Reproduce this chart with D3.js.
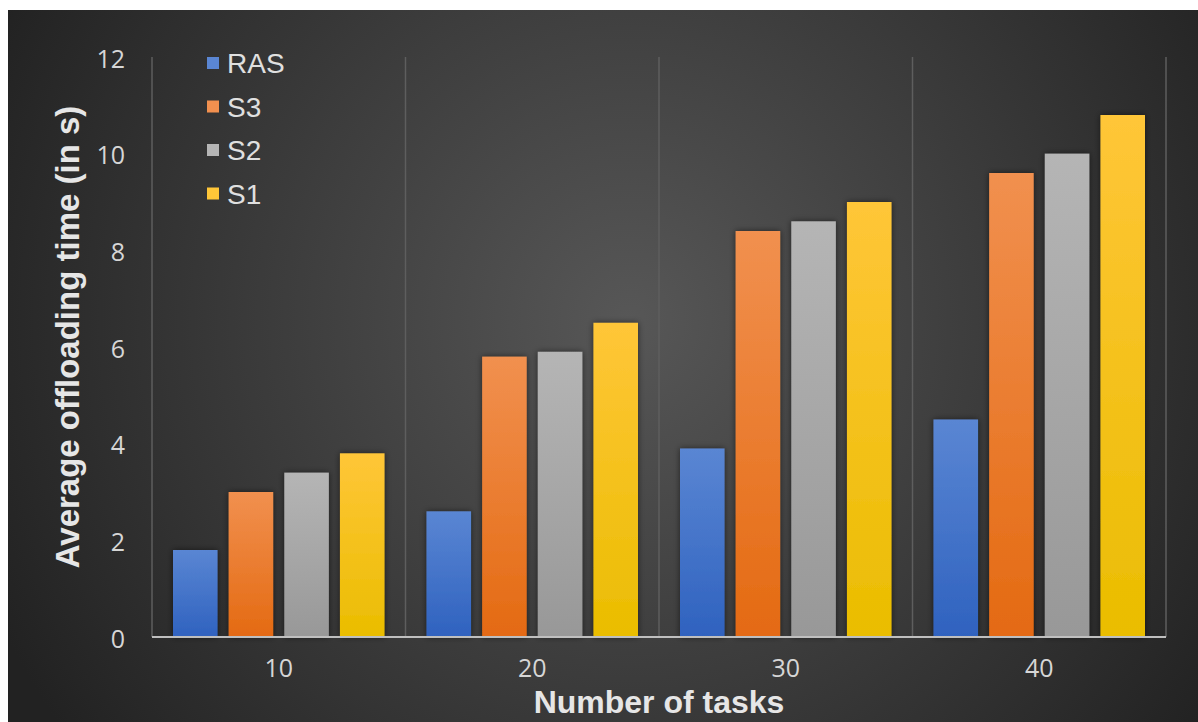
<!DOCTYPE html>
<html>
<head>
<meta charset="utf-8">
<script src="https://cdn.jsdelivr.net/npm/d3@7"></script>
<style>
  html, body { margin: 0; padding: 0; background: #ffffff; }
  svg { display: block; }
</style>
</head>
<body>
<svg id="chart" width="1198" height="722"></svg>
<script>
// Number of tasks per scenario
const categories = ["10", "20", "30", "40"];
const seriesNames = ["RAS", "S3", "S2", "S1"];
// Average offloading time (s) per series, one value per category
const RAS = [1.8, 2.6, 3.9, 4.5];
const S3  = [3.0, 5.8, 8.4, 9.6];
const S2  = [3.4, 5.9, 8.6, 10.0];
const S1  = [3.8, 6.5, 9.0, 10.8];
const yTicks = [0, 2, 4, 6, 8, 10, 12];

const seriesValues = { RAS, S3, S2, S1 };
const colors = {
  RAS: ["#5a86d3", "#2f62bf"],
  S3:  ["#f1904f", "#e46a12"],
  S2:  ["#b5b5b5", "#989898"],
  S1:  ["#ffc638", "#eabd00"]
};

const W = 1198, H = 722;
const svg = d3.select("#chart");
const defs = svg.append("defs");

// Dark radial backdrop
const bg = defs.append("radialGradient").attr("id", "bg")
  .attr("gradientUnits", "userSpaceOnUse")
  .attr("cx", 630).attr("cy", 320).attr("r", 700);
bg.append("stop").attr("offset", "0%").attr("stop-color", "#575757");
bg.append("stop").attr("offset", "55%").attr("stop-color", "#3a3a3a");
bg.append("stop").attr("offset", "100%").attr("stop-color", "#222222");

seriesNames.forEach(s => {
  const g = defs.append("linearGradient").attr("id", "grad-" + s)
    .attr("x1", 0).attr("y1", 0).attr("x2", 0).attr("y2", 1);
  g.append("stop").attr("offset", "0%").attr("stop-color", colors[s][0]);
  g.append("stop").attr("offset", "100%").attr("stop-color", colors[s][1]);
});

const shadow = defs.append("filter").attr("id", "shadow")
  .attr("x", "-20%").attr("y", "-20%").attr("width", "140%").attr("height", "140%");
shadow.append("feDropShadow").attr("dx", 0).attr("dy", 0)
  .attr("stdDeviation", 3).attr("flood-color", "#000").attr("flood-opacity", 0.55);

svg.append("rect").attr("x", 8).attr("y", 10)
  .attr("width", W - 8).attr("height", H - 10).attr("fill", "url(#bg)");

const plot = { left: 152, right: 1166, top: 57, bottom: 637 };

const x0 = d3.scaleBand().domain(categories)
  .range([plot.left, plot.right]).paddingInner(0).paddingOuter(0);
const x1 = d3.scaleBand().domain(seriesNames)
  .range([21, x0.bandwidth() - 21]).paddingInner(0.2).paddingOuter(0);
const y = d3.scaleLinear().domain([0, 12]).range([plot.bottom, plot.top]);

// Vertical separators between categories
const seps = d3.range(categories.length + 1).map(i =>
  i < categories.length ? x0(categories[i]) : x0(categories[categories.length - 1]) + x0.bandwidth());
svg.append("g").selectAll("line").data(seps).join("line")
  .attr("x1", d => d).attr("x2", d => d)
  .attr("y1", plot.top).attr("y2", plot.bottom)
  .attr("stroke", "#5e5e5e").attr("stroke-width", 1.5);

// Bars
const groups = svg.append("g").selectAll("g").data(categories).join("g")
  .attr("transform", d => `translate(${x0(d)},0)`);
groups.selectAll("rect")
  .data((c, i) => seriesNames.map(s => ({ s, v: seriesValues[s][i] })))
  .join("rect")
  .attr("x", d => x1(d.s))
  .attr("width", x1.bandwidth())
  .attr("y", d => y(d.v))
  .attr("height", d => y(0) - y(d.v))
  .attr("fill", d => `url(#grad-${d.s})`)
  .attr("filter", "url(#shadow)");

// Baseline
svg.append("line")
  .attr("x1", plot.left).attr("x2", plot.right)
  .attr("y1", y(0)).attr("y2", y(0))
  .attr("stroke", "#bfbfbf").attr("stroke-width", 2);

// Y axis tick labels
const yAxis = d3.axisLeft(y).tickValues(yTicks).tickSize(0).tickPadding(0);
const gy = svg.append("g").attr("transform", `translate(125,2)`).call(yAxis);
gy.select(".domain").remove();
gy.selectAll("text")
  .attr("fill", "#d6d6d6").attr("font-family", "'Open Sans', sans-serif")
  .attr("font-size", 25);

// X axis tick labels
const xAxis = d3.axisBottom(x0).tickSize(0).tickPadding(0);
const gx = svg.append("g").attr("transform", `translate(0,${plot.bottom + 22})`).call(xAxis);
gx.select(".domain").remove();
gx.selectAll("text")
  .attr("fill", "#d6d6d6").attr("font-family", "'Open Sans', sans-serif")
  .attr("font-size", 25);

// Axis titles
svg.append("text")
  .attr("transform", `translate(79,337) rotate(-90)`)
  .attr("text-anchor", "middle")
  .attr("fill", "#e6e6e6").attr("font-family", "'Liberation Sans', Arial, sans-serif")
  .attr("font-weight", "bold").attr("font-size", 33)
  .text("Average offloading time (in s)");

svg.append("text")
  .attr("x", (plot.left + plot.right) / 2).attr("y", 713)
  .attr("text-anchor", "middle")
  .attr("fill", "#e6e6e6").attr("font-family", "'Liberation Sans', Arial, sans-serif")
  .attr("font-weight", "bold").attr("font-size", 32)
  .text("Number of tasks");

// Legend
const legend = svg.append("g").attr("transform", "translate(207,63)");
const items = legend.selectAll("g").data(seriesNames).join("g")
  .attr("transform", (d, i) => `translate(0,${i * 43.5})`);
items.append("rect")
  .attr("x", 0).attr("y", -6).attr("width", 12).attr("height", 12)
  .attr("fill", d => colors[d][0]);
items.append("text")
  .attr("x", 20).attr("y", 0).attr("dy", "0.36em")
  .attr("fill", "#e0e0e0").attr("font-family", "'Liberation Sans', Arial, sans-serif")
  .attr("font-size", 28)
  .text(d => d);
</script>
</body>
</html>
